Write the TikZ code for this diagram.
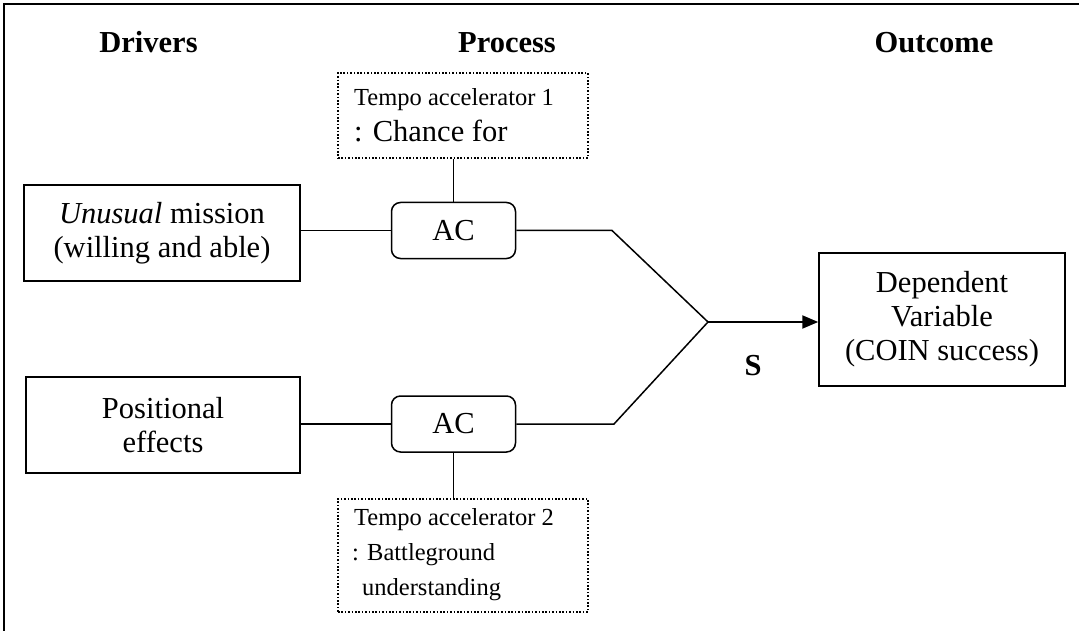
\documentclass[tikz,border=0pt]{standalone}
\usepackage{fontspec}
\setmainfont{Liberation Serif}
\usetikzlibrary{arrows.meta}
\tikzset{
  mainfont/.style={font=\fontsize{30.5}{34}\selectfont},
  smallfont/.style={font=\fontsize{24.5}{30}\selectfont},
  titletext/.style={font=\fontsize{30.5}{34}\selectfont\bfseries, anchor=base, inner sep=0pt},
  plainbox/.style={draw, line width=1.5pt, mainfont, align=center, inner sep=0pt},
  acbox/.style={draw, line width=1.5pt, rounded corners=9pt, mainfont, inner sep=0pt,
                minimum width=124pt, minimum height=56pt},
  dotbox/.style={draw, line width=1.6pt, dash pattern=on 1.6pt off 1.8pt, inner sep=0pt},
  linetext/.style={anchor=base west, inner sep=0pt},
  wire/.style={line width=1.5pt},
  flow/.style={line width=2pt, -{Triangle[length=16pt,width=13pt]}}
}
\begin{document}
\begin{tikzpicture}[x=1pt,y=-1pt]
  \useasboundingbox (0,0) rectangle (1079,631);
  \clip (0,0) rectangle (1079,631);
  \fill[white] (0,0) rectangle (1079,631);
  % outer frame (continues past the lower and right borders)
  \draw[line width=2.2pt] (4,700) -- (4,4) -- (1150,4);

  % column headings
  \node[titletext] (hdrivers) at (148.5,53) {Drivers};
  \node[titletext] (hprocess) at (507,53) {Process};
  \node[titletext] (houtcome) at (934,53) {Outcome};

  % drivers
  \node[plainbox, minimum width=276pt, minimum height=96pt] (mission) at (162,233)
    {\textit{Unusual} mission\\(willing and able)};
  \node[plainbox, minimum width=274pt, minimum height=96pt] (position) at (163,425)
    {Positional\\effects};

  % process boxes
  \node[acbox] (ac1) at (453.5,230.5) {AC};
  \node[acbox] (ac2) at (453.5,424) {AC};

  % tempo accelerators
  \node[dotbox, minimum width=250pt, minimum height=85pt] (tempo1) at (463,115.5) {};
  \node[linetext, smallfont] (tempo1a) at (354,106) {Tempo accelerator 1};
  \node[linetext, mainfont] (tempo1b) at (354,142) {: Chance for};

  \node[dotbox, minimum width=250pt, minimum height=113pt] (tempo2) at (463,555.5) {};
  \node[linetext, smallfont] (tempo2a) at (354,525) {Tempo accelerator 2};
  \node[linetext, smallfont] (tempo2b) at (352,560) {: Battleground};
  \node[linetext, smallfont] (tempo2c) at (362,595) {understanding};

  % outcome
  \node[plainbox, minimum width=246pt, minimum height=133pt] (outcome) at (942,319.5)
    {Dependent\\Variable\\(COIN success)};

  % bends and junction of the two paths
  \coordinate (upbend) at (612,230.5);
  \coordinate (lowbend) at (614,424);
  \coordinate (join) at (708,322);

  % connectors
  \draw[wire] (tempo1.south -| ac1.north) -- (ac1.north);
  \draw[wire] (ac2.south) -- (ac2.south |- tempo2.north);
  \draw[wire] (mission.east |- ac1.west) -- (ac1.west);
  \draw[wire] (position.east |- ac2.west) -- (ac2.west);
  \draw[wire] (ac1.east) -- (upbend) -- (join);
  \draw[wire] (ac2.east) -- (lowbend) -- (join);
  \draw[flow] (join) -- (outcome.west |- join);

  \node[titletext] (slabel) at (753,375) {S};
\end{tikzpicture}
\end{document}
